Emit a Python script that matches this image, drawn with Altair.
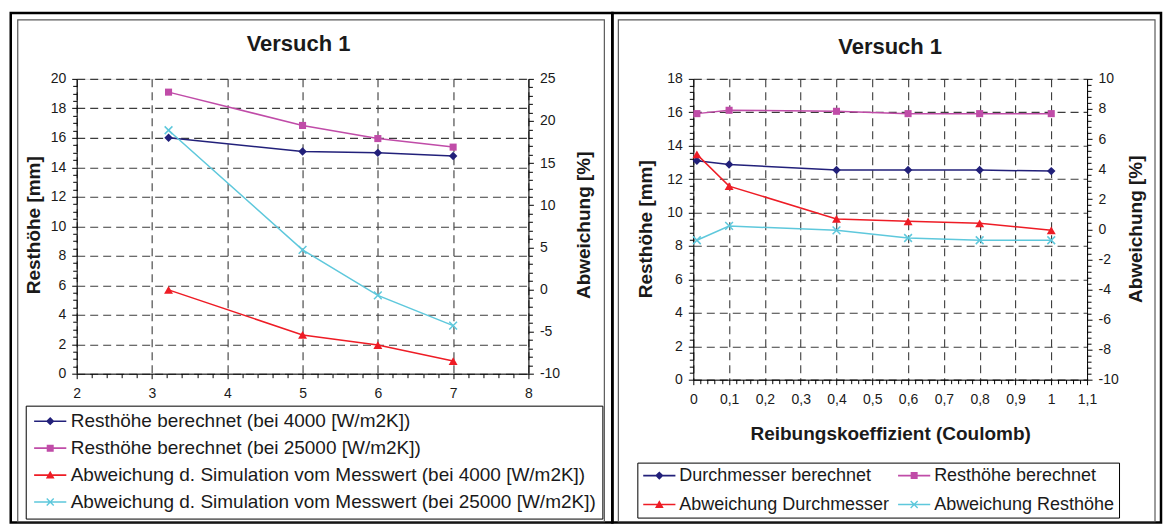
import altair as alt
import pandas as pd

FONT = "Liberation Sans"
TXT = "#1a1a1a"

# ---------------- left chart (Versuch 1, x = 2..8) ----------------
L_X = [3.22, 5, 6, 7]
L_NAMES = [
    "Resthöhe berechnet (bei 4000 [W/m2K])",
    "Resthöhe berechnet (bei 25000 [W/m2K])",
    "Abweichung d. Simulation vom Messwert (bei 4000 [W/m2K])",
    "Abweichung d. Simulation vom Messwert (bei 25000 [W/m2K])",
]
L_REST_4000 = [16.0, 15.07, 14.98, 14.76]
L_REST_25000 = [19.1, 16.84, 15.95, 15.37]
L_ABW_4000 = [-0.05, -5.4, -6.6, -8.5]
L_ABW_25000 = [18.9, 4.7, -0.7, -4.3]

# ---------------- right chart (Reibungskoeffizient) ----------------
R_X = [0.01, 0.1, 0.4, 0.6, 0.8, 1.0]
R_NAMES = [
    "Durchmesser berechnet",
    "Resthöhe berechnet",
    "Abweichung Durchmesser",
    "Abweichung Resthöhe",
]
R_DURCH = [13.1, 12.88, 12.54, 12.54, 12.54, 12.48]
R_REST = [15.92, 16.12, 16.06, 15.92, 15.92, 15.92]
R_ABW_DURCH = [4.98, 2.87, 0.69, 0.53, 0.4, -0.07]
R_ABW_REST = [-0.73, 0.22, -0.07, -0.58, -0.73, -0.73]

TITLE = "Versuch 1"

# axis ticks (major + minor positions)
L_XTICKS = [round(2 + 0.2 * i, 2) for i in range(31)]
L_YTICKS = [round(0.5 * i, 1) for i in range(41)]
L_Y2TICKS = list(range(-10, 26))
R_XTICKS = [round(0.02 * i, 2) for i in range(56)]
R_YTICKS = [round(0.4 * i, 1) for i in range(46)]
R_Y2TICKS = [round(-10 + 0.4 * i, 1) for i in range(51)]

COLORS = ["#22207a", "#c04ca8", "#ee1c25", "#5ec8dc"]
MARK_SHAPES = ["diamond", "square", "triangle-up", "M-1,-1L1,1M-1,1L1,-1"]
MARK_SIZES = [72, 50, 80, 60]
MARK_FILLED = [True, True, True, False]

LINE = "M-2.3,-0.11H2.3V0.11H-2.3Z"
LEGEND_PATHS = [
    LINE + "M-0.6,0L0,-0.6L0.6,0L0,0.6Z",
    LINE + "M-0.5,-0.5H0.5V0.5H-0.5Z",
    LINE + "M0,-0.62L0.62,0.5H-0.62Z",
    LINE + "M-0.57,-0.43L-0.43,-0.57L0.57,0.43L0.43,0.57Z"
    + "M-0.57,0.43L0.43,-0.57L0.57,-0.43L-0.43,0.57Z",
]


def long_df(names, xs, series):
    rows = []
    for n, vals in zip(names, series):
        for x, v in zip(xs, vals):
            rows.append({"s": n, "x": x, "v": v})
    return pd.DataFrame(rows)


def is_major(step):
    return f"abs(datum.value / {step} - round(datum.value / {step})) < 1e-6"


def make_axis(values, step, orient, title=None, grid=False, comma=False,
              title_x=None, title_y=None, title_angle=None, label_padding=6):
    test = is_major(step)
    lab = "replace(toString(datum.value), '.', ',')" if comma else "toString(datum.value)"
    args = dict(
        values=values, orient=orient,
        labelExpr=f"({test}) ? {lab} : ''",
        tickSize={"condition": {"test": test, "value": 5}, "value": 4},
        grid=grid, domainColor="black", domainWidth=1, tickColor="black", tickWidth=1,
        labelFont=FONT, labelFontSize=14, labelColor=TXT, labelPadding=label_padding,
        labelFlush=False, labelOverlap=False,
        titleFont=FONT, titleFontWeight="bold", titleFontSize=19, titleColor=TXT,
        title=title,
    )
    if grid:
        args.update(gridColor="#3c3c3c", gridDash=[8, 5], gridWidth=1.1,
                    gridOpacity={"condition": {"test": test, "value": 1}, "value": 0})
    if title is not None:
        args.update(titleX=title_x, titleY=title_y, titleBaseline="middle", titleAlign="center")
        if title_angle is not None:
            args.update(titleAngle=title_angle)
    return alt.Axis(**args)


ONE = pd.DataFrame({"a": [0]})


def frame(box, color, width):
    return alt.Chart(ONE).mark_rect(fillOpacity=0, stroke=color, strokeWidth=width).encode(
        x=alt.value(box[0]), x2=alt.value(box[1]), y=alt.value(box[2]), y2=alt.value(box[3]))


def title_text(cx, cy):
    return alt.Chart(pd.DataFrame({"t": [TITLE]})).mark_text(
        font=FONT, fontSize=22, fontWeight="bold", color=TXT, align="center",
        baseline="middle").encode(text="t:N", x=alt.value(cx), y=alt.value(cy))


def panel(df, names, x_enc, yl_scale, yr_scale, yl_axis, yr_axis, legend,
          outer, inner, width, height, title_pos):
    layers = [frame(outer, "black", 2.5), frame(inner, "#5a5a5a", 1.2),
              title_text(*title_pos)]
    for i, name in enumerate(names):
        scale = yl_scale if i < 2 else yr_scale
        axis = yl_axis if i == 0 else (yr_axis if i == 2 else None)
        base = alt.Chart(df).transform_filter(alt.datum.s == name)
        line = base.mark_line(color=COLORS[i], strokeWidth=1.5).encode(
            x=x_enc, y=alt.Y("v:Q", scale=scale, axis=axis))
        pts = base.mark_point(shape=MARK_SHAPES[i], size=MARK_SIZES[i], filled=MARK_FILLED[i],
                              color=COLORS[i], opacity=1, strokeWidth=1.5).encode(
            x=x_enc, y=alt.Y("v:Q", scale=scale, axis=None))
        layers += [line, pts]
    leg = alt.Chart(pd.DataFrame({"s": names})).mark_point(
        filled=True, size=196, clip=True, opacity=1).encode(
        x=alt.value(0), y=alt.value(-3000),
        color=alt.Color("s:N", scale=alt.Scale(domain=names, range=COLORS), legend=legend),
        shape=alt.Shape("s:N", scale=alt.Scale(domain=names, range=LEGEND_PATHS), legend=legend),
    )
    layers.append(leg)
    return alt.layer(*layers).resolve_scale(y="independent").properties(
        width=width, height=height)


# ---------- left panel ----------
L_W, L_H = 452, 295
df_l = long_df(L_NAMES, L_X, [L_REST_4000, L_REST_25000, L_ABW_4000, L_ABW_25000])
xl = alt.X("x:Q", scale=alt.Scale(domain=[2, 8], nice=False, zero=False),
           axis=make_axis(L_XTICKS, 1, "bottom", grid=True, label_padding=8))
yl_axis = make_axis(L_YTICKS, 2, "left", title="Resthöhe [mm]", grid=True,
                    title_x=-43, title_y=146)
yr_axis = make_axis(L_Y2TICKS, 5, "right", title="Abweichung [%]",
                    title_x=55, title_y=146, title_angle=270)
leg_l = alt.Legend(title=None, orient="none", legendX=-51, legendY=327, direction="vertical",
                   columns=1, labelFont=FONT, labelFontSize=19, labelColor=TXT, labelLimit=1000,
                   symbolSize=196, symbolStrokeWidth=0, symbolOffset=9, labelOffset=11,
                   rowPadding=7, padding=6, strokeColor="black", fillColor="white")
left = panel(df_l, L_NAMES, xl,
             alt.Scale(domain=[0, 20], nice=False, zero=False),
             alt.Scale(domain=[-10, 25], nice=False, zero=False),
             yl_axis, yr_axis, leg_l,
             outer=(-66, 536, -66, 444), inner=(-59, 528, -59, 443),
             width=L_W, height=L_H, title_pos=(222, -35))

# ---------- right panel ----------
R_W, R_H = 394, 301
df_r = long_df(R_NAMES, R_X, [R_DURCH, R_REST, R_ABW_DURCH, R_ABW_REST])
xr = alt.X("x:Q", scale=alt.Scale(domain=[0, 1.1], nice=False, zero=False),
           axis=make_axis(R_XTICKS, 0.1, "bottom", grid=True, comma=True,
                          title="Reibungskoeffizient (Coulomb)", title_x=197, title_y=54,
                          label_padding=8))
ryl_axis = make_axis(R_YTICKS, 2, "left", title="Resthöhe [mm]", grid=True,
                     title_x=-48, title_y=150)
ryr_axis = make_axis(R_Y2TICKS, 2, "right", title="Abweichung [%]",
                     title_x=48, title_y=150, title_angle=270)
leg_r = alt.Legend(title=None, orient="none", legendX=-56, legendY=384, direction="horizontal",
                   columns=2, columnPadding=6, labelFont=FONT, labelFontSize=18, labelColor=TXT,
                   labelLimit=1000, symbolSize=196, symbolStrokeWidth=0, symbolOffset=9,
                   labelOffset=11, rowPadding=11, padding=4, strokeColor="black", fillColor="white")
right = panel(df_r, R_NAMES, xr,
              alt.Scale(domain=[0, 18], nice=False, zero=False),
              alt.Scale(domain=[-10, 10], nice=False, zero=False),
              ryl_axis, ryr_axis, leg_r,
              outer=(-81, 468, -66, 444), inner=(-75, 462, -59, 443),
              width=R_W, height=R_H, title_pos=(197, -32))

chart = alt.hconcat(left, right, spacing=165, bounds="flush").resolve_scale(
    color="independent", shape="independent"
).resolve_legend(color="independent", shape="independent").properties(
    padding={"left": 8.75, "top": 10.75, "right": 0, "bottom": 0},
    background="white",
).configure_view(fill="#c0c0c0", stroke="#8c8c8c").configure(font=FONT)

chart.save("out.html", embed_options={"renderer": "svg", "actions": False})
